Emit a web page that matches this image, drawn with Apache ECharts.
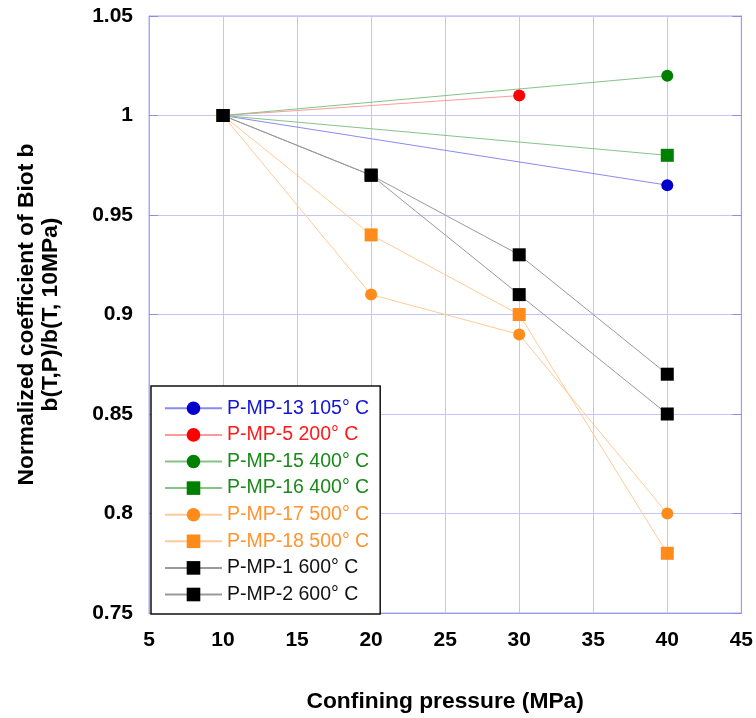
<!DOCTYPE html>
<html>
<head>
<meta charset="utf-8">
<script src="https://cdn.jsdelivr.net/npm/echarts@6/dist/echarts.min.js"></script>
<style>
  html, body { margin: 0; padding: 0; background: #ffffff; }
  #chart { width: 756px; height: 718px; }
</style>
</head>
<body>
<div id="chart"></div>
<script>
// ---- data ----
const seriesNames = [
  'P-MP-13 105° C', 'P-MP-5 200° C', 'P-MP-15 400° C', 'P-MP-16 400° C',
  'P-MP-17 500° C', 'P-MP-18 500° C', 'P-MP-1 600° C', 'P-MP-2 600° C'
];
const P_MP_13 = [[10, 1.0], [40, 0.965]];
const P_MP_5  = [[10, 1.0], [30, 1.01]];
const P_MP_15 = [[10, 1.0], [40, 1.02]];
const P_MP_16 = [[10, 1.0], [40, 0.98]];
const P_MP_17 = [[10, 1.0], [20, 0.91], [30, 0.89], [40, 0.80]];
const P_MP_18 = [[10, 1.0], [20, 0.94], [30, 0.90], [40, 0.78]];
const P_MP_1  = [[10, 1.0], [20, 0.97], [30, 0.93], [40, 0.87]];
const P_MP_2  = [[10, 1.0], [20, 0.97], [30, 0.91], [40, 0.85]];
const seriesValues = [P_MP_13, P_MP_5, P_MP_15, P_MP_16, P_MP_17, P_MP_18, P_MP_1, P_MP_2];

// ---- styling ----
const symbols     = ['circle', 'circle', 'circle', 'rect', 'circle', 'rect', 'rect', 'rect'];
const markerColor = ['#0000cc', '#ff0000', '#008000', '#008000', '#ff8c1a', '#ff8c1a', '#000000', '#000000'];
const lineColor   = ['#8a8af2', '#ff9a9a', '#86c486', '#86c486', '#ffcb98', '#ffcb98', '#9a9a9a', '#9a9a9a'];
const textColor   = ['#1414d8', '#ff1a1a', '#1a8a1a', '#1a8a1a', '#ff9430', '#ff9430', '#111111', '#111111'];

const chart = echarts.init(document.getElementById('chart'), null, { renderer: 'canvas' });

const gridColor = '#c6c6f4';
const frameColor = '#a8a8f2';
const font = 'Liberation Sans, Arial, sans-serif';

const series = seriesNames.map((name, i) => ({
  name: name,
  type: 'line',
  data: seriesValues[i],
  symbol: symbols[i],
  symbolSize: symbols[i] === 'rect' ? 13 : 12,
  showSymbol: true,
  animation: false,
  lineStyle: { color: lineColor[i], width: 1 },
  itemStyle: { color: markerColor[i] },
  emphasis: { disabled: true },
  z: 3
}));

const option = {
  backgroundColor: '#ffffff',
  animation: false,
  grid: {
    left: 149, right: 13.5, top: 16, bottom: 104,
    show: true, borderColor: frameColor, borderWidth: 1, backgroundColor: 'transparent'
  },
  xAxis: [{
    type: 'value', min: 5, max: 45, interval: 5,
    name: 'Confining pressure (MPa)',
    nameLocation: 'middle', nameGap: 77,
    nameTextStyle: { fontFamily: font, fontWeight: 'bold', fontSize: 22.8, color: '#000' },
    axisLine: { show: true, lineStyle: { color: '#9a9af0', width: 1 } },
    axisTick: { show: false },
    axisLabel: { fontFamily: font, fontWeight: 'bold', fontSize: 21, color: '#000', margin: 17 },
    splitLine: { show: true, lineStyle: { color: gridColor, width: 1 } }
  }],
  yAxis: [{
    type: 'value', min: 0.75, max: 1.05, interval: 0.05,
    name: 'Normalized coefficient of Biot b\nb(T,P)/b(T, 10MPa)',
    nameLocation: 'middle', nameGap: 86,
    nameTextStyle: { fontFamily: font, fontWeight: 'bold', fontSize: 22.8, lineHeight: 24, color: '#000', align: 'center' },
    axisLine: { show: true, lineStyle: { color: frameColor, width: 1 } },
    axisTick: { show: true, inside: true, length: 9, lineStyle: { color: '#8c8cec' } },
    axisLabel: { fontFamily: font, fontWeight: 'bold', fontSize: 21, color: '#000', margin: 16 },
    splitLine: { show: true, lineStyle: { color: gridColor, width: 1 } }
  }, {
    type: 'value', min: 0.75, max: 1.05, interval: 0.05, position: 'right',
    axisLine: { show: true, lineStyle: { color: '#9a9af0', width: 1 } },
    axisTick: { show: true, inside: true, length: 9, lineStyle: { color: '#8c8cec' } },
    axisLabel: { show: false },
    splitLine: { show: false }
  }],
  legend: {
    show: true,
    orient: 'vertical',
    left: 151, top: 386,
    padding: [12.3, 11, 9.5, 13],
    itemWidth: 57, itemHeight: 17, itemGap: 6.6,
    backgroundColor: '#ffffff',
    borderColor: '#111111', borderWidth: 1.5,
    selectedMode: false,
    data: seriesNames.map((n, i) => ({ name: n, textStyle: { color: textColor[i] } })),
    textStyle: { fontFamily: font, fontSize: 19.5, lineHeight: 20 },
    z: 10
  },
  series: series
};

chart.setOption(option);
</script>
</body>
</html>
